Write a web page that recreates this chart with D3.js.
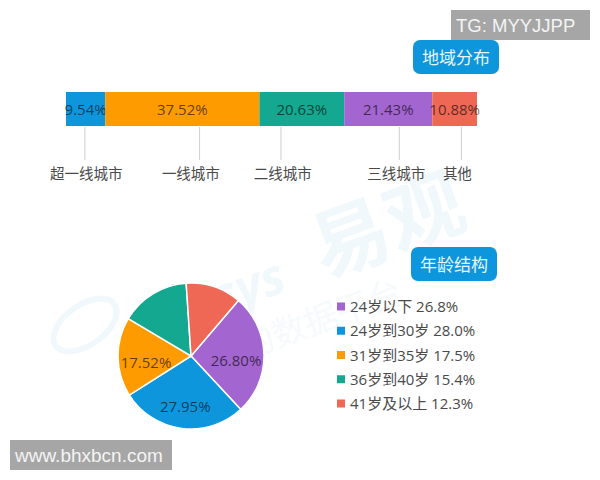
<!DOCTYPE html>
<html>
<head>
<meta charset="utf-8">
<script src="https://cdn.jsdelivr.net/npm/d3@7"></script>
<style>
  html, body { margin: 0; padding: 0; background: #fff; }
  svg { display: block; }
  text { font-family: "Open Sans", "Noto Sans CJK SC", sans-serif; }
</style>
</head>
<body>
<svg id="chart" width="600" height="480"></svg>
<script>
// region bar
var regionNames = ['超一线城市', '一线城市', '二线城市', '三线城市', '其他'];
var regionValues = [9.54, 37.52, 20.63, 21.43, 10.88];

// age pie
var ageNames = ['24岁以下', '24岁到30岁', '31岁到35岁', '36岁到40岁', '41岁及以上'];
var ageValues = [26.80, 27.95, 17.52, 15.40, 12.30];
var ageLegend = ['26.8%', '28.0%', '17.5%', '15.4%', '12.3%'];
var agePieLabels = ['26.80%', '27.95%', '17.52%', '', ''];

var regionColors = ['#0d96dc', '#fd9b01', '#13a88f', '#a365d0', '#ee6855'];
var ageColors = ['#a365d0', '#0d96dc', '#fd9b01', '#13a88f', '#ee6855'];

// where the leader lines leave the bar, in bar percent, and how far each label sits off its line
var leaderAt = [4.6, 32.5, 52.3, 81.1, 96.2];
var labelShift = [1.3, -8.7, 1.7, -3, -4];

var svg = d3.select('#chart');

// faint watermark behind everything
var mark = svg.append('g').attr('fill', '#f0f8fc');
mark.append('text').attr('transform', 'translate(390,232) rotate(-20)')
    .attr('text-anchor', 'middle').attr('dominant-baseline', 'middle')
    .style('font-size', '78px').style('font-weight', 700).text('易观');
mark.append('text').attr('transform', 'translate(250,290) rotate(-20)')
    .attr('text-anchor', 'middle').attr('dominant-baseline', 'middle')
    .style('font-size', '50px').style('font-weight', 700).style('font-style', 'italic').text('sys');
mark.append('text').attr('transform', 'translate(322,322) rotate(-20)')
    .attr('text-anchor', 'middle').attr('dominant-baseline', 'middle')
    .attr('fill', '#f6fafd')
    .style('font-size', '34px').text('的数据平台');
mark.append('ellipse').attr('transform', 'translate(85,325) rotate(-35)')
    .attr('rx', 36).attr('ry', 20)
    .attr('fill', 'none').attr('stroke', '#f0f8fc').attr('stroke-width', 6);

// bar
var x = d3.scaleLinear().domain([0, 100]).range([66, 477]);
var stack = d3.cumsum(regionValues);
var barTop = 92, barH = 34;

var segs = svg.append('g').selectAll('g')
    .data(regionValues)
    .enter().append('g');

segs.append('rect')
    .attr('x', function(d, i) { return x(stack[i] - d); })
    .attr('y', barTop)
    .attr('width', function(d) { return x(d) - x(0); })
    .attr('height', barH)
    .attr('fill', function(d, i) { return regionColors[i]; });

segs.append('text')
    .attr('x', function(d, i) { return x(stack[i] - d / 2); })
    .attr('y', barTop + barH / 2)
    .attr('text-anchor', 'middle')
    .attr('dominant-baseline', 'central')
    .attr('fill', '#000').attr('fill-opacity', 0.62)
    .style('font-size', '15px')
    .text(function(d) { return d.toFixed(2) + '%'; });

svg.append('g').selectAll('line')
    .data(leaderAt)
    .enter().append('line')
    .attr('x1', function(d) { return x(d); })
    .attr('x2', function(d) { return x(d); })
    .attr('y1', barTop + barH + 1)
    .attr('y2', 160)
    .attr('stroke', '#cfcfcf');

svg.append('g').selectAll('text')
    .data(regionNames)
    .enter().append('text')
    .attr('x', function(d, i) { return x(leaderAt[i]) + labelShift[i]; })
    .attr('y', 173)
    .attr('text-anchor', 'middle')
    .attr('dominant-baseline', 'central')
    .attr('fill', '#4a4a4a')
    .style('font-size', '14.5px')
    .text(function(d) { return d; });

// pie
var pie = d3.pie().sort(null)
    .startAngle(40.5 * Math.PI / 180)
    .endAngle((360 + 40.5) * Math.PI / 180);
var arc = d3.arc().innerRadius(0).outerRadius(73);
var labelArc = d3.arc().innerRadius(45).outerRadius(45);

var pieG = svg.append('g').attr('transform', 'translate(191,356)');
var slices = pieG.selectAll('g')
    .data(pie(ageValues))
    .enter().append('g');

slices.append('path')
    .attr('d', arc)
    .attr('fill', function(d, i) { return ageColors[i]; })
    .attr('stroke', '#fff')
    .attr('stroke-width', 1.5);

slices.append('text')
    .attr('transform', function(d) { return 'translate(' + labelArc.centroid(d) + ')'; })
    .attr('dy', 5)
    .attr('text-anchor', 'middle')
    .attr('dominant-baseline', 'central')
    .attr('fill', '#000').attr('fill-opacity', 0.62)
    .style('font-size', '15px')
    .text(function(d, i) { return agePieLabels[i]; });

// legend
var legendY = d3.scalePoint().domain(ageNames).range([306, 403]);
var legend = svg.append('g').selectAll('g')
    .data(ageNames)
    .enter().append('g')
    .attr('transform', function(d) { return 'translate(337,' + legendY(d) + ')'; });

legend.append('rect')
    .attr('y', -3.5).attr('width', 8).attr('height', 8)
    .attr('fill', function(d, i) { return ageColors[i]; });

legend.append('text')
    .attr('x', 13)
    .attr('dominant-baseline', 'central')
    .attr('fill', '#4a4a4a')
    .style('font-size', '15px')
    .text(function(d, i) { return d + ' ' + ageLegend[i]; });

// title badges
function badge(left, top, w, h, label) {
    svg.append('rect')
        .attr('x', left).attr('y', top).attr('width', w).attr('height', h)
        .attr('rx', 7).attr('fill', '#0d96dc');
    svg.append('text')
        .attr('x', left + w / 2).attr('y', top + h / 2)
        .attr('text-anchor', 'middle').attr('dominant-baseline', 'central')
        .attr('fill', '#e6f6ff')
        .style('font-size', '17px')
        .text(label);
}
badge(413, 40, 86, 34, '地域分布');
badge(411, 247, 86, 34, '年龄结构');

// grey stamps on the image
function stamp(left, top, w, h, label, size) {
    svg.append('rect')
        .attr('x', left).attr('y', top).attr('width', w).attr('height', h)
        .attr('fill', '#a6a6a6');
    svg.append('text')
        .attr('x', left + 5).attr('y', top + h / 2)
        .attr('dominant-baseline', 'central')
        .attr('fill', '#f4f4f4')
        .style('font-family', 'Liberation Sans, sans-serif')
        .style('font-size', size + 'px')
        .text(label);
}
stamp(451, 10, 139, 30, 'TG: MYYJJPP', 18.5);
stamp(10, 440, 162, 30, 'www.bhxbcn.com', 19);
</script>
</body>
</html>
